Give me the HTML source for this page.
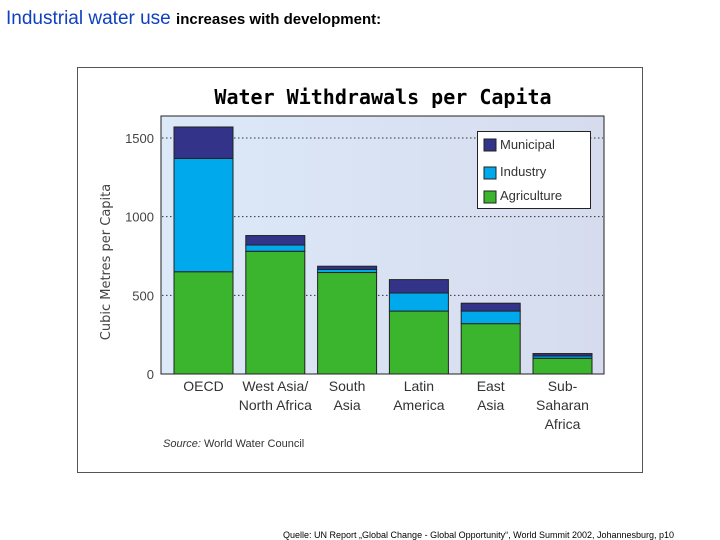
<!DOCTYPE html>
<html><head><meta charset="utf-8"><style>
body{margin:0;width:720px;height:540px;background:#fff;position:relative;overflow:hidden;font-family:"Liberation Sans",sans-serif}
#h{position:absolute;left:6px;top:8px;font-size:19px;color:#1040c0;white-space:nowrap}
#h span{font-size:15px;color:#000;font-weight:bold}
#foot{position:absolute;left:283px;top:530px;font-size:9px;color:#000;white-space:nowrap}
svg{position:absolute;left:0;top:0}
</style></head><body>
<div id="h">Industrial water use <span>increases with development:</span></div>
<svg width="720" height="540">
<defs><linearGradient id="bg" x1="0" x2="1" y1="0" y2="0"><stop offset="0" stop-color="#dce9f8"/><stop offset="1" stop-color="#d6dcee"/></linearGradient></defs>
<rect x="77.5" y="67.5" width="565" height="405" fill="#fff" stroke="#555"/>
<text x="383" y="104" text-anchor="middle" font-size="20" font-weight="bold" font-family="DejaVu Sans Mono, monospace">Water Withdrawals per Capita</text>
<rect x="161" y="116" width="443" height="258" fill="url(#bg)" stroke="#222"/>
<g id="grid"></g><g id="bars"></g><g id="axis"></g>
<text transform="translate(110,262) rotate(-90)" text-anchor="middle" font-size="13" fill="#444" font-family="DejaVu Sans, sans-serif">Cubic Metres per Capita</text>
<g>
<rect x="477.5" y="131.5" width="113" height="77" fill="#fff" stroke="#222"/>
<rect x="484" y="139" width="12" height="12" fill="#33338a" stroke="#222"/><text x="500" y="149" font-size="13" fill="#333">Municipal</text>
<rect x="484" y="167" width="12" height="12" fill="#00a8ec" stroke="#222"/><text x="500" y="176" font-size="13" fill="#333">Industry</text>
<rect x="484" y="191" width="12" height="12" fill="#3bb52e" stroke="#222"/><text x="500" y="200" font-size="13" fill="#333">Agriculture</text>
</g>
<text x="163" y="447" font-size="11" fill="#333"><tspan font-style="italic">Source:</tspan> World Water Council</text>
</svg>
<div id="foot">Quelle: UN Report „Global Change - Global Opportunity“, World Summit 2002, Johannesburg, p10</div>
<script>
const categories=[["OECD"],["West Asia/","North Africa"],["South","Asia"],["Latin","America"],["East","Asia"],["Sub-","Saharan","Africa"]];
const agriculture=[650,780,645,400,320,100];
const industry=[720,40,20,115,80,15];
const municipal=[200,60,20,85,50,15];
const yTicks=[0,500,1000,1500];
const NS="http://www.w3.org/2000/svg";
const y0=374,pxPer=236/1500;
const Y=v=>y0-v*pxPer;
const X=i=>174+i*71.8;
const bw=59;
function mk(t,a,p){const e=document.createElementNS(NS,t);for(const k in a)e.setAttribute(k,a[k]);p.appendChild(e);return e;}
const G=document.getElementById('grid'),B=document.getElementById('bars'),A=document.getElementById('axis');
yTicks.forEach(v=>{
 if(v>0){const l=mk('line',{x1:162,x2:603,y1:Y(v),y2:Y(v),stroke:'#333','stroke-dasharray':'1.5,2.5'},G);
 
 }
 const t=mk('text',{x:154,y:Y(v)+5,'text-anchor':'end','font-size':13,fill:'#444'},A);t.textContent=v;
 
 
});
const cols=['#3bb52e','#00a8ec','#33338a'];
categories.forEach((c,i)=>{
 let base=0;
 [agriculture[i],industry[i],municipal[i]].forEach((v,k)=>{
  const r=mk('rect',{x:X(i),y:Y(base+v),width:bw,height:v*pxPer,fill:cols[k],stroke:'#222','stroke-width':1},B);
  
  
  base+=v;
 });
 c.forEach((s,j)=>{const t=mk('text',{x:X(i)+bw/2,y:391+j*19,'text-anchor':'middle','font-size':14,fill:'#333'},A);t.textContent=s;
 
 });
});
</script>
</body></html>
